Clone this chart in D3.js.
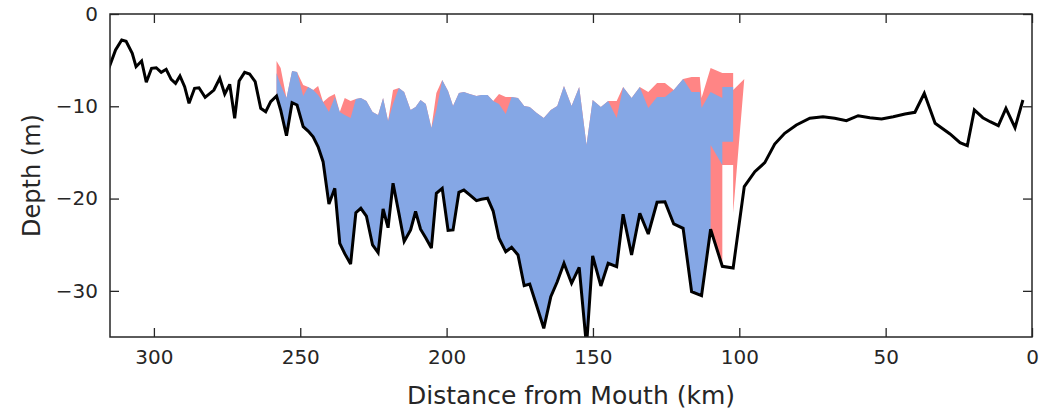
<!DOCTYPE html>
<html>
<head>
<meta charset="utf-8">
<script src="https://cdn.jsdelivr.net/npm/d3@7"></script>
<style>
  body { margin: 0; background: #fff; }
  text { font-family: "DejaVu Sans", sans-serif; fill: #262626; }
</style>
</head>
<body>
<div id="chart"></div>
<script>
// ------------ DATA ------------
// river bed profile (km from mouth, depth in m)
var bedDist = [315.4, 313.1, 311.0, 309.5, 307.4, 306.1, 304.2, 302.6, 300.8, 299.2, 297.5, 295.8,
  294.1, 292.6, 291.1, 289.5, 288.0, 286.1, 284.6, 282.5, 279.5, 277.5, 275.8, 274.1, 272.4, 270.9,
  269.0, 267.3, 265.4, 263.5, 261.8, 260.1, 258.1, 256.7, 254.7, 252.8, 251.1, 249.0, 247.3, 245.6,
  243.9, 242.2, 240.2, 238.2, 236.5, 234.8, 232.8, 231.0, 229.3, 227.4, 225.3, 223.4, 221.7, 220.0,
  218.3, 216.3, 214.5, 212.3, 210.6, 208.9, 207.1, 205.2, 203.5, 201.5, 199.5, 197.8, 195.8, 194.1,
  192.1, 189.8, 188.1, 186.0, 184.1, 182.1, 179.8, 177.8, 175.6, 173.5, 171.6, 169.2, 166.8, 164.4,
  162.2, 159.9, 157.3, 154.7, 152.2, 150.1, 147.3, 144.8, 141.9, 139.7, 136.8, 134.0, 131.1, 128.1,
  125.4, 122.4, 119.2, 116.3, 112.9, 109.8, 105.8, 102.1, 98.3, 94.7, 91.3, 87.9, 84.5, 80.5, 75.9,
  71.4, 67.4, 63.4, 59.4, 55.4, 51.4, 47.4, 43.4, 40.0, 36.8, 33.1, 28.0, 24.6, 22.1, 19.7, 16.8,
  14.3, 11.5, 8.9, 5.8, 3.1];
var bedDepth = [-5.88, -3.90, -2.82, -2.96, -4.26, -5.71, -5.09, -7.40, -5.88, -5.82, -6.32, -5.99,
  -7.08, -7.51, -6.72, -7.88, -9.68, -8.05, -7.99, -9.03, -8.24, -6.97, -8.67, -7.62, -11.30, -7.26,
  -6.32, -6.50, -7.34, -10.22, -10.59, -9.50, -8.89, -10.40, -13.19, -9.61, -9.86, -12.21, -12.68, -13.30,
  -14.38, -16.00, -20.59, -18.89, -24.85, -25.97, -27.09, -21.53, -21.05, -21.89, -25.03, -25.86, -21.13, -23.16,
  -18.34, -21.60, -24.65, -23.40, -21.40, -23.32, -24.27, -25.36, -19.43, -18.89, -23.44, -23.40, -19.32, -19.07,
  -19.61, -20.23, -20.08, -19.97, -21.35, -24.30, -25.76, -25.28, -26.11, -29.44, -29.26, -31.64, -34.06, -30.63,
  -29.01, -27.01, -29.18, -27.45, -36.00, -26.22, -29.47, -27.01, -27.38, -21.70, -26.11, -21.60, -23.84, -20.40,
  -20.34, -22.75, -23.22, -30.09, -30.52, -23.33, -27.34, -27.52, -18.71, -17.09, -16.11, -14.09, -12.93, -12.03, -11.30,
  -11.13, -11.30, -11.56, -11.02, -11.24, -11.38, -11.13, -10.84, -10.65, -8.59, -11.84, -13.00, -13.95, -14.27, -10.40, -11.24,
  -11.67, -12.10, -10.22, -12.32, -9.32];

// stations where the water column is filled
var fillDist = [258.1, 256.7, 254.7, 252.8, 251.1, 249.0, 247.3, 245.6, 243.9, 242.2, 240.2, 238.2,
  236.5, 234.8, 232.8, 231.0, 229.3, 227.4, 225.3, 223.4, 221.7, 220.0, 218.3, 216.3, 214.5, 212.3,
  210.6, 208.9, 207.1, 205.2, 203.5, 201.5, 199.5, 197.8, 195.8, 194.1, 192.1, 189.8, 188.1, 186.0,
  184.1, 182.1, 179.8, 177.8, 175.6, 173.5, 171.6, 169.2, 166.8, 164.4, 162.2, 159.9, 157.3, 154.7,
  152.2, 150.1, 147.3, 144.8, 141.9, 139.7, 136.8, 134.0, 131.1, 128.1, 125.4, 122.4, 119.2, 116.3,
  113.5, 112.9, 109.8];
var fillBottom = [-8.89, -10.40, -13.19, -9.61, -9.86, -12.21, -12.68, -13.30, -14.38, -16.00, -20.59, -18.89,
  -24.85, -25.97, -27.09, -21.53, -21.05, -21.89, -25.03, -25.86, -21.13, -23.16, -18.34, -21.60, -24.65, -23.40,
  -21.40, -23.32, -24.27, -25.36, -19.43, -18.89, -23.44, -23.40, -19.32, -19.07, -19.61, -20.23, -20.08, -19.97,
  -21.35, -24.30, -25.76, -25.28, -26.11, -29.44, -29.26, -31.64, -34.06, -30.63, -29.01, -27.01, -29.18, -27.45,
  -36.00, -26.22, -29.47, -27.01, -27.38, -21.70, -26.11, -21.60, -23.84, -20.40, -20.34, -22.75, -23.22, -30.09,
  -30.30, -30.52, -23.33];
var blueTop = [-6.39, -7.69, -9.10, -6.18, -6.28, -8.89, -7.91, -8.23, -8.78, -9.54, -10.62, -8.99,
  -10.62, -10.94, -11.27, -9.21, -9.10, -9.43, -10.62, -10.94, -9.10, -11.59, -9.75, -8.02, -8.45, -10.40,
  -10.08, -9.32, -9.75, -12.35, -10.40, -7.15, -8.34, -9.97, -8.56, -8.45, -8.67, -8.89, -8.78, -8.78,
  -9.43, -9.75, -10.84, -8.99, -9.10, -9.97, -10.08, -10.73, -11.27, -10.40, -9.97, -7.80, -9.97, -7.91,
  -14.19, -9.32, -10.08, -9.43, -11.27, -7.91, -9.10, -7.91, -10.19, -8.99, -8.99, -8.23, -7.04, -8.45,
  -8.45, -10.19, -8.45];
var redTop = [-5.09, -5.85, -9.10, -6.18, -6.28, -7.69, -7.91, -8.23, -7.80, -9.54, -8.99, -8.67,
  -10.62, -9.10, -9.43, -9.21, -9.10, -9.43, -10.62, -10.94, -9.10, -11.59, -8.23, -8.02, -8.45, -10.40,
  -10.08, -9.32, -9.75, -12.35, -8.56, -7.15, -8.34, -9.97, -8.56, -8.45, -8.67, -8.89, -8.78, -8.78,
  -9.43, -8.67, -8.99, -8.99, -9.10, -9.97, -10.08, -10.73, -11.27, -10.40, -9.97, -7.80, -9.97, -7.91,
  -14.19, -9.32, -10.08, -9.43, -9.43, -7.91, -9.10, -7.91, -8.45, -7.48, -7.48, -8.23, -7.04, -6.83,
  -6.83, -9.10, -5.85];

// downstream end, where the fills leave the bed
var blueEndDist = [109.8, 105.8, 105.8, 102.1];
var blueEndTop = [-8.45, -9.10, -7.91, -7.91];
var blueEndBottom = [-14.19, -16.36, -13.84, -13.84];
var redEndDist = [105.8, 105.8, 102.1, 102.1, 98.3];
var redEndTop = [-6.39, -6.39, -6.39, -8.23, -7.04];
var redEndBottom = [-27.34, -16.36, -16.36, -21.56, -7.04];

var xTicks = [300, 250, 200, 150, 100, 50, 0];
var yTicks = [-30, -20, -10, 0];

// ------------ CHART FORMATTING ------------
var svgWidth = 1039;
var svgHeight = 412;
var margin = { top: 14, right: 7, bottom: 75, left: 110 };
var chartWidth = svgWidth - margin.left - margin.right;
var chartHeight = svgHeight - margin.top - margin.bottom;

var svg = d3.select("#chart")
  .append("svg")
  .attr("width", svgWidth)
  .attr("height", svgHeight);

var chartGroup = svg.append("g")
  .attr("transform", `translate(${margin.left}, ${margin.top})`);

var x = d3.scaleLinear().domain([315, 0]).range([0, chartWidth]);
var y = d3.scaleLinear().domain([-35, 0]).range([chartHeight, 0]);

svg.append("clipPath").attr("id", "plotClip")
  .append("rect").attr("width", chartWidth).attr("height", chartHeight);

var plot = chartGroup.append("g").attr("clip-path", "url(#plotClip)");

// ------------ FILLS ------------
function rows(dist, top, bottom) {
  return dist.map((d, i) => ({ d: d, top: top[i], bottom: bottom[i] }));
}
var redRows = rows(fillDist, redTop, fillBottom).concat(rows(redEndDist, redEndTop, redEndBottom));
var blueRows = rows(fillDist, blueTop, fillBottom).concat(rows(blueEndDist, blueEndTop, blueEndBottom));

var area = d3.area()
  .x(r => x(r.d))
  .y0(r => y(r.bottom))
  .y1(r => y(r.top));

plot.append("path").datum(redRows)
  .attr("d", area)
  .attr("fill", "#ff8585");
plot.append("path").datum(blueRows)
  .attr("d", area)
  .attr("fill", "#85a7e5");

// ------------ BED LINE ------------
var bed = bedDist.map((d, i) => ({ d: d, z: bedDepth[i] }));
plot.append("path").datum(bed)
  .attr("d", d3.line().x(p => x(p.d)).y(p => y(p.z)))
  .attr("fill", "none")
  .attr("stroke", "#000")
  .attr("stroke-width", 3)
  .attr("stroke-linejoin", "miter")
  .attr("stroke-miterlimit", 3);

// ------------ AXES ------------
var axisColor = "#262626";
function styleAxis(g, labels) {
  g.select(".domain").remove();
  g.selectAll("line").attr("stroke", axisColor).attr("stroke-width", 1.3);
  if (labels) g.selectAll("text").attr("font-size", "20px").attr("fill", axisColor);
  else g.selectAll("text").remove();
}

chartGroup.append("g")
  .attr("transform", `translate(0, ${chartHeight})`)
  .call(d3.axisBottom(x).tickValues(xTicks).tickSizeInner(-9).tickSizeOuter(0).tickPadding(13))
  .call(g => styleAxis(g, true));
chartGroup.append("g")
  .call(d3.axisTop(x).tickValues(xTicks).tickSizeInner(-9).tickSizeOuter(0))
  .call(g => styleAxis(g, false));
chartGroup.append("g")
  .call(d3.axisLeft(y).tickValues(yTicks).tickSizeInner(-9).tickSizeOuter(0).tickPadding(12))
  .call(g => styleAxis(g, true));
chartGroup.append("g")
  .attr("transform", `translate(${chartWidth}, 0)`)
  .call(d3.axisRight(y).tickValues(yTicks).tickSizeInner(-9).tickSizeOuter(0))
  .call(g => styleAxis(g, false));

// box
chartGroup.append("rect")
  .attr("width", chartWidth)
  .attr("height", chartHeight)
  .attr("fill", "none")
  .attr("stroke", axisColor)
  .attr("stroke-width", 1.5);

// ------------ LABELS ------------
chartGroup.append("text")
  .attr("x", chartWidth / 2)
  .attr("y", chartHeight + 67)
  .attr("text-anchor", "middle")
  .attr("font-size", "25px")
  .text("Distance from Mouth (km)");

chartGroup.append("text")
  .attr("transform", "rotate(-90)")
  .attr("x", -chartHeight / 2)
  .attr("y", -70)
  .attr("text-anchor", "middle")
  .attr("font-size", "24px")
  .text("Depth (m)");
</script>
</body>
</html>
